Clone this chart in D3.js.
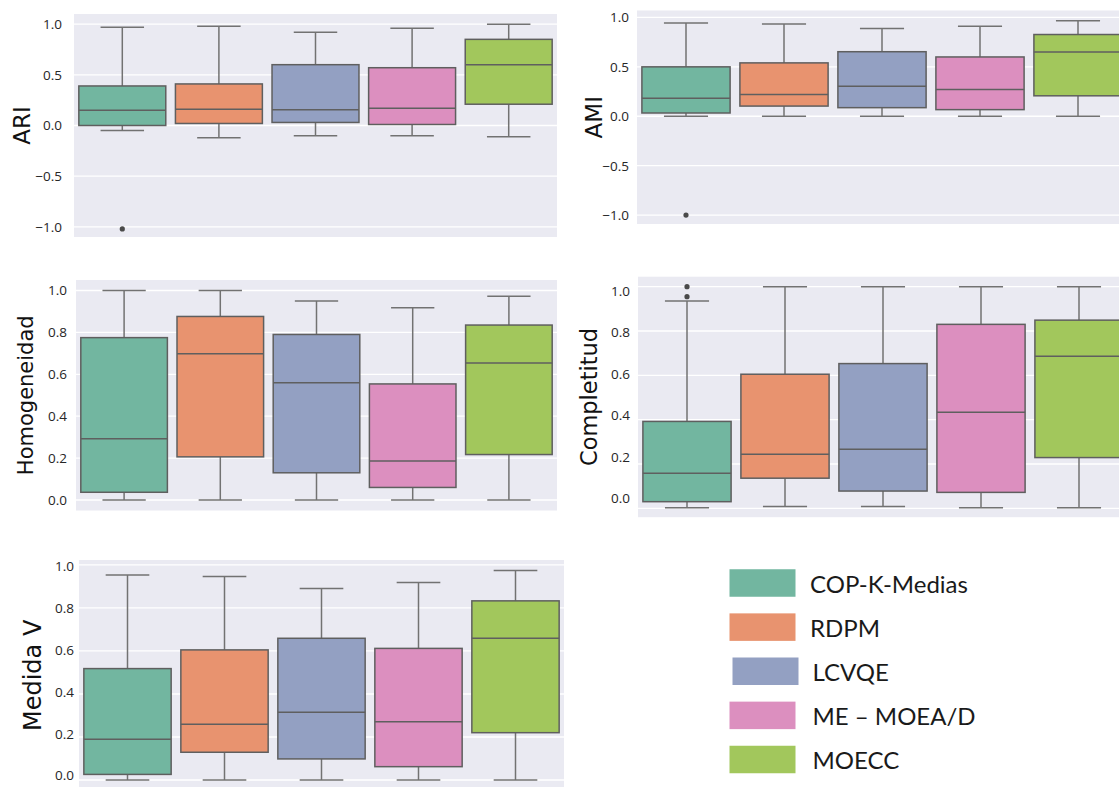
<!DOCTYPE html>
<html>
<head>
<meta charset="utf-8">
<script src="https://cdn.jsdelivr.net/npm/d3@7"></script>
<style>
  body { margin: 0; background: #fff; }
  .tick text { font-family: "Open Sans", sans-serif; font-size: 13.5px; fill: #262626; }
  .ylabel { font-family: "DejaVu Sans", sans-serif; fill: #111; }
  .legend text { font-family: "Lato", sans-serif; font-size: 24px; fill: #1a1a1a; }
</style>
</head>
<body>
<div id="chart"></div>
<script>
// methods and colours (seaborn Set2, desaturated)
var methods = ["COP-K-Medias", "RDPM", "LCVQE", "ME – MOEA/D", "MOECC"];
var colors = ["#72b6a0", "#e8936f", "#93a0c2", "#dc8fbf", "#a2c75c"];

// [lower whisker, Q1, median, Q3, upper whisker] per method
var ariStats = [
  [-0.05, 0.00, 0.15, 0.39, 0.97],
  [-0.12, 0.02, 0.16, 0.41, 0.98],
  [-0.10, 0.03, 0.155, 0.60, 0.92],
  [-0.10, 0.01, 0.17, 0.57, 0.96],
  [-0.11, 0.21, 0.60, 0.85, 1.00]
];
var ariOutliers = [[-1.02], [], [], [], []];

var amiStats = [
  [0.00, 0.033, 0.183, 0.50, 0.943],
  [0.00, 0.103, 0.22, 0.54, 0.933],
  [0.00, 0.087, 0.303, 0.653, 0.887],
  [0.00, 0.067, 0.27, 0.60, 0.91],
  [0.00, 0.207, 0.65, 0.827, 0.967]
];
var amiOutliers = [[-1.0], [], [], [], []];

var homStats = [
  [0.00, 0.037, 0.293, 0.775, 1.00],
  [0.00, 0.206, 0.698, 0.876, 1.00],
  [0.00, 0.13, 0.56, 0.79, 0.95],
  [0.00, 0.06, 0.186, 0.554, 0.917],
  [0.00, 0.217, 0.654, 0.835, 0.973]
];
var homOutliers = [[], [], [], [], []];

var comStats = [
  [0.003, 0.03, 0.158, 0.392, 0.935],
  [0.008, 0.136, 0.244, 0.605, 1.00],
  [0.008, 0.078, 0.267, 0.653, 1.00],
  [0.003, 0.072, 0.433, 0.83, 1.00],
  [0.003, 0.229, 0.686, 0.849, 1.00]
];
var comOutliers = [[1.0, 0.955], [], [], [], []];

var vStats = [
  [0.00, 0.026, 0.189, 0.518, 0.953],
  [0.00, 0.129, 0.259, 0.605, 0.946],
  [0.00, 0.098, 0.315, 0.659, 0.891],
  [0.00, 0.062, 0.271, 0.612, 0.918],
  [0.00, 0.22, 0.659, 0.833, 0.974]
];
var vOutliers = [[], [], [], [], []];

var wideTicks = [-1.0, -0.5, 0.0, 0.5, 1.0];
var unitTicks = [0.0, 0.2, 0.4, 0.6, 0.8, 1.0];

// panel layout in page pixels (labels: where the tick texts sit, can differ a bit from the grid)
var panels = [
  { label: "ARI", stats: ariStats, outliers: ariOutliers, ticks: wideTicks,
    x: [74, 557], domain: [-1.1, 1.1], y: [237, 14], labels: null, pad: 12, labelX: 22, labelSize: 23 },
  { label: "AMI", stats: amiStats, outliers: amiOutliers, ticks: wideTicks,
    x: [637, 1127], domain: [-1.09, 1.07], y: [224, 10.5], labels: null, pad: 8, labelX: 594, labelSize: 23 },
  { label: "Homogeneidad", stats: homStats, outliers: homOutliers, ticks: unitTicks,
    x: [76, 557], domain: [-0.05, 1.05], y: [510.5, 280], labels: null, pad: 9, labelX: 26, labelSize: 21 },
  { label: "Completitud", stats: comStats, outliers: comOutliers, ticks: unitTicks,
    x: [638, 1128], domain: [-0.04, 1.045], y: [517.2, 276.7], labels: [499, 291.7], pad: 8, labelX: 589, labelSize: 22.5 },
  { label: "Medida V", stats: vStats, outliers: vOutliers, ticks: unitTicks,
    x: [79, 564], domain: [-0.05, 1.023], y: [790.75, 560], labels: [776, 567], pad: 5, labelX: 33, labelSize: 24 }
];

var svgWidth = 1119;
var svgHeight = 787;

var svg = d3.select("#chart")
  .append("svg")
  .attr("width", svgWidth)
  .attr("height", svgHeight);

panels.forEach(function (p) {
  var xScale = d3.scaleBand()
    .domain(methods)
    .range(p.x)
    .paddingInner(0.1)
    .paddingOuter(0.05);

  var yScale = d3.scaleLinear()
    .domain(p.domain)
    .range(p.y);

  var g = svg.append("g");

  // background + grid
  g.append("rect")
    .attr("x", p.x[0])
    .attr("y", p.y[1])
    .attr("width", p.x[1] - p.x[0])
    .attr("height", p.y[0] - p.y[1])
    .attr("fill", "#eaeaf2");

  g.selectAll(".grid")
    .data(p.ticks)
    .enter()
    .append("line")
    .attr("x1", p.x[0])
    .attr("x2", p.x[1])
    .attr("y1", d => yScale(d))
    .attr("y2", d => yScale(d))
    .attr("stroke", "#fff")
    .attr("stroke-width", 1.3);

  var yAxis = g.append("g")
    .attr("transform", `translate(${p.x[0]}, 0)`)
    .call(d3.axisLeft(yScale).tickValues(p.ticks).tickFormat(d3.format(".1f")).tickSize(0).tickPadding(p.pad));
  yAxis.select(".domain").remove();

  if (p.labels) {
    var labelScale = d3.scaleLinear().domain([0, 1]).range(p.labels);
    yAxis.selectAll(".tick")
      .attr("transform", d => `translate(0, ${labelScale(d)})`);
  }

  g.append("text")
    .attr("class", "ylabel")
    .attr("transform", `translate(${p.labelX}, ${(p.y[0] + p.y[1]) / 2}) rotate(-90)`)
    .attr("text-anchor", "middle")
    .attr("dominant-baseline", "central")
    .attr("font-size", p.labelSize)
    .text(p.label);

  var bw = xScale.bandwidth();
  var boxes = g.selectAll(".box")
    .data(p.stats)
    .enter()
    .append("g")
    .attr("transform", (d, i) => `translate(${xScale(methods[i])}, 0)`);

  // whiskers
  boxes.append("line")
    .attr("x1", bw / 2).attr("x2", bw / 2)
    .attr("y1", d => yScale(d[4])).attr("y2", d => yScale(d[3]))
    .attr("stroke", "#727272").attr("stroke-width", 1.5);
  boxes.append("line")
    .attr("x1", bw / 2).attr("x2", bw / 2)
    .attr("y1", d => yScale(d[1])).attr("y2", d => yScale(d[0]))
    .attr("stroke", "#727272").attr("stroke-width", 1.5);
  boxes.append("line")
    .attr("x1", bw / 4).attr("x2", bw * 3 / 4)
    .attr("y1", d => yScale(d[4])).attr("y2", d => yScale(d[4]))
    .attr("stroke", "#727272").attr("stroke-width", 1.5);
  boxes.append("line")
    .attr("x1", bw / 4).attr("x2", bw * 3 / 4)
    .attr("y1", d => yScale(d[0])).attr("y2", d => yScale(d[0]))
    .attr("stroke", "#727272").attr("stroke-width", 1.5);

  boxes.append("rect")
    .attr("x", 0)
    .attr("width", bw)
    .attr("y", d => yScale(d[3]))
    .attr("height", d => yScale(d[1]) - yScale(d[3]))
    .attr("fill", (d, i) => colors[i])
    .attr("stroke", "#5f5f5f")
    .attr("stroke-width", 1.5);

  boxes.append("line")
    .attr("x1", 0).attr("x2", bw)
    .attr("y1", d => yScale(d[2])).attr("y2", d => yScale(d[2]))
    .attr("stroke", "#5f5f5f").attr("stroke-width", 1.5);

  // outliers
  p.outliers.forEach(function (vals, i) {
    g.selectAll(null)
      .data(vals)
      .enter()
      .append("circle")
      .attr("cx", xScale(methods[i]) + bw / 2)
      .attr("cy", d => yScale(d))
      .attr("r", 2.6)
      .attr("fill", "#4a4a4a");
  });
});

// legend
var legendY = d3.scalePoint()
  .domain(methods)
  .range([583, 759.5]);

var legend = svg.append("g").attr("class", "legend");

var items = legend.selectAll("g")
  .data(methods)
  .enter()
  .append("g")
  .attr("transform", d => `translate(0, ${legendY(d)})`);

items.append("rect")
  .attr("x", (d, i) => i === 2 ? 732.5 : 729.5)
  .attr("y", -13.75)
  .attr("width", 66)
  .attr("height", 27.5)
  .attr("fill", (d, i) => colors[i]);

items.append("text")
  .attr("x", (d, i) => i === 0 || i === 1 ? 810 : 812.5)
  .attr("y", 0)
  .attr("dominant-baseline", "central")
  .text(d => d);
</script>
</body>
</html>
